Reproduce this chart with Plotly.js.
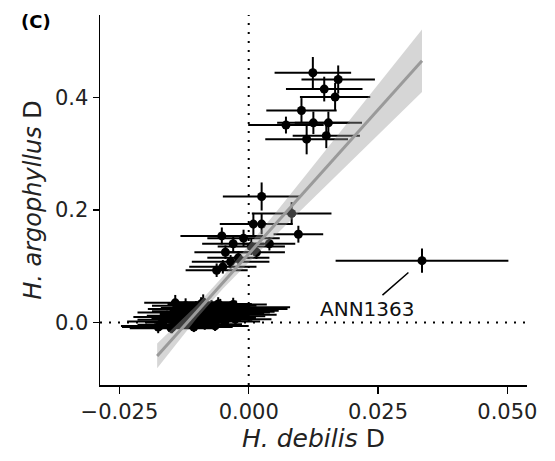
<!DOCTYPE html>
<html>
<head>
<meta charset="utf-8">
<script src="https://cdn.plot.ly/plotly-3.0.1.min.js"></script>
<style>html,body{margin:0;padding:0;background:#fff;}</style>
</head>
<body>
<div id="chart" style="width:555px;height:461px;"></div>
<script>
// Lower cluster (near zero)
var lowX  = [-0.0172,-0.0165,-0.0158,-0.0150,-0.0145,-0.0140,-0.0135,-0.0130,-0.0127,-0.0122,-0.0118,-0.0115,-0.0110,-0.0106,-0.0102,-0.0098,-0.0095,-0.0092,-0.0088,-0.0085,-0.0082,-0.0078,-0.0075,-0.0072,-0.0068,-0.0065,-0.0062,-0.0058,-0.0055,-0.0050,-0.0046,-0.0042,-0.0038,-0.0034,-0.0025,-0.0026,-0.0022,-0.0018,-0.0142,-0.0088,-0.0059,-0.0030,-0.0175,-0.0148,-0.0040,-0.0010];
var lowY  = [-0.006,0.002,0.010,-0.010,0.018,0.005,0.024,-0.004,0.012,0.030,0.000,0.020,0.007,-0.008,0.026,0.015,0.003,0.033,0.010,-0.003,0.022,0.017,0.005,0.028,0.012,-0.006,0.020,0.008,0.030,0.015,0.002,0.024,0.011,0.018,0.027,0.006,0.021,0.014,0.035,0.036,0.033,0.032,-0.008,-0.008,0.019,0.024];
var lowXe = [0.0075,0.0070,0.0065,0.0080,0.0070,0.0075,0.0060,0.0085,0.0070,0.0065,0.0080,0.0072,0.0078,0.0075,0.0068,0.0074,0.0080,0.0065,0.0076,0.0072,0.0070,0.0068,0.0082,0.0075,0.0070,0.0065,0.0078,0.0072,0.0070,0.0080,0.0068,0.0085,0.0070,0.0075,0.0105,0.0070,0.0080,0.0072,0.0060,0.0060,0.0065,0.0065,0.0070,0.0060,0.0090,0.0085];
var lowYe = [0.009,0.010,0.011,0.009,0.012,0.010,0.012,0.009,0.011,0.013,0.010,0.012,0.010,0.009,0.012,0.011,0.010,0.012,0.011,0.010,0.012,0.011,0.010,0.012,0.011,0.009,0.012,0.010,0.012,0.011,0.010,0.012,0.010,0.011,0.012,0.010,0.011,0.010,0.014,0.014,0.012,0.012,0.011,0.011,0.010,0.010];

// Middle cluster
var midX  = [0.0025,0.0083,0.0096,-0.0052,0.0009,0.0025,-0.0010,-0.0030,0.0005,0.0040,-0.0045,0.0015,-0.0050,-0.0062,-0.0020,-0.0035];
var midY  = [0.224,0.194,0.157,0.154,0.175,0.175,0.150,0.140,0.135,0.140,0.125,0.125,0.099,0.093,0.115,0.108];
var midXe = [0.0075,0.0077,0.0048,0.0080,0.0065,0.0060,0.0070,0.0060,0.0065,0.0050,0.0060,0.0055,0.0065,0.0060,0.0060,0.0075];
var midYe = [0.025,0.020,0.015,0.015,0.020,0.018,0.015,0.015,0.015,0.012,0.012,0.012,0.012,0.012,0.012,0.012];

// Upper cluster
var upX  = [0.0124,0.0173,0.0146,0.0167,0.0102,0.0072,0.0125,0.0154,0.0112,0.0150];
var upY  = [0.444,0.432,0.415,0.401,0.377,0.351,0.355,0.355,0.326,0.332];
var upXe = [0.0074,0.0071,0.0074,0.0068,0.0068,0.0073,0.0070,0.0065,0.0080,0.0065];
var upYe = [0.028,0.025,0.022,0.025,0.022,0.015,0.020,0.020,0.027,0.022];

// Outlier ANN1363
var outX = [0.0335], outY = [0.110], outXe = [0.0167], outYe = [0.0215];
var outLabel = "ANN1363";

// Regression fit with confidence band
var fitX  = [-0.0177,-0.010,-0.005,0.000,0.005,0.010,0.015,0.020,0.025,0.030,0.0335];
var fitY  = [-0.0594,0.0195,0.0708,0.122,0.1733,0.2245,0.2758,0.327,0.3783,0.4295,0.4654];
var ciLo  = [-0.0814,0.008,0.060,0.1075,0.1535,0.1988,0.2439,0.2888,0.3338,0.3785,0.4099];
var ciHi  = [-0.0374,0.031,0.0816,0.1365,0.1931,0.2502,0.3077,0.3652,0.4228,0.4805,0.5209];

var xTicks = [-0.025, 0.000, 0.025, 0.050];
var xTickText = ["\u22120.025", "0.000", "0.025", "0.050"];
var yTicks = [0.0, 0.2, 0.4];
var yTickText = ["0.0", "0.2", "0.4"];

var allX = lowX.concat(midX, upX, outX);
var allY = lowY.concat(midY, upY, outY);
var allXe = lowXe.concat(midXe, upXe, outXe);
var allYe = lowYe.concat(midYe, upYe, outYe);

var FONT = "DejaVu Sans, Liberation Sans, Arial, sans-serif";

var traces = [
  {
    type: "scatter", mode: "markers", x: allX, y: allY,
    marker: {color: "black", size: 9},
    error_x: {type: "data", array: allXe, color: "black", thickness: 2, width: 0},
    error_y: {type: "data", array: allYe, color: "black", thickness: 2, width: 0},
    hoverinfo: "skip", showlegend: false
  },
  {
    type: "scatter", mode: "lines", x: fitX, y: ciLo,
    line: {width: 0, color: "rgba(0,0,0,0)"}, showlegend: false, hoverinfo: "skip"
  },
  {
    type: "scatter", mode: "lines", x: fitX, y: ciHi, fill: "tonexty",
    fillcolor: "rgba(153,153,153,0.4)",
    line: {width: 0, color: "rgba(0,0,0,0)"}, showlegend: false, hoverinfo: "skip"
  },
  {
    type: "scatter", mode: "lines", x: fitX, y: fitY,
    line: {width: 3, color: "#9a9a9a"}, showlegend: false, hoverinfo: "skip"
  }
];

var layout = {
  width: 555, height: 461,
  margin: {l: 100, r: 28, t: 15, b: 76},
  paper_bgcolor: "white", plot_bgcolor: "white",
  font: {family: FONT, color: "black", size: 21},
  xaxis: {
    range: [-0.02875, 0.0538],
    tickvals: xTicks, ticktext: xTickText,
    showgrid: false, zeroline: false,
    showline: true, linecolor: "black", linewidth: 1.5,
    ticks: "outside", ticklen: 7, tickwidth: 1.5, tickcolor: "black",
    tickfont: {size: 21, color: "#222"},
    title: {text: "<i>H. debilis</i> D", font: {size: 25, color: "#222"}, standoff: 4}
  },
  yaxis: {
    range: [-0.1111, 0.5467],
    tickvals: yTicks, ticktext: yTickText,
    showgrid: false, zeroline: false,
    showline: true, linecolor: "black", linewidth: 1.5,
    ticks: "outside", ticklen: 6, tickwidth: 1.5, tickcolor: "black",
    tickfont: {size: 21, color: "#222"},
    title: {text: "<i>H. argophyllus</i> D", font: {size: 24, color: "#222"}, standoff: 6}
  },
  shapes: [
    {type: "line", xref: "x", yref: "paper", x0: 0, x1: 0, y0: 0, y1: 1,
     line: {color: "black", width: 2, dash: "2px,7px"}, layer: "below"},
    {type: "line", xref: "paper", yref: "y", x0: 0, x1: 1, y0: 0, y1: 0,
     line: {color: "black", width: 2, dash: "2px,7px"}, layer: "below"}
  ],
  annotations: [
    {x: outX[0], y: outY[0], xref: "x", yref: "y", text: outLabel,
     showarrow: true, arrowhead: 0, arrowwidth: 1.5, arrowcolor: "black",
     ax: -55, ay: 48, standoff: 18, font: {size: 20, color: "#111"}},
    {xref: "paper", yref: "paper", x: -0.19, y: 1.015, xanchor: "left", yanchor: "top",
     text: "<b>(C)</b>", showarrow: false, font: {size: 18}}
  ]
};

Plotly.newPlot("chart", traces, layout, {displayModeBar: false, staticPlot: true});
</script>
</body>
</html>
